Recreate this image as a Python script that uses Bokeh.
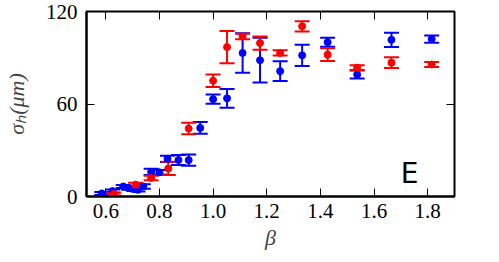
from bokeh.plotting import figure
from bokeh.models import (ColumnDataSource, Whisker, TeeHead, LinearAxis, FixedTicker, Label,
                          Range1d, PrintfTickFormatter, CustomJSTickFormatter)
from bokeh.embed import file_html
from bokeh.resources import INLINE

# Blue series
beta_blue = [0.585, 0.625, 0.665, 0.685, 0.705, 0.72, 0.74, 0.769, 0.800, 0.830, 0.871, 0.909,
             0.952, 1.000, 1.052, 1.110, 1.175, 1.250, 1.332, 1.427, 1.537, 1.665, 1.815]
sigma_blue = [2.0, 3.5, 6.5, 5.5, 4.8, 4.3, 6.5, 16.0, 15.7, 24.4, 23.7, 23.6,
              44.5, 63.1, 63.7, 93.1, 88.4, 81.3, 91.6, 100.1, 79.1, 101.6, 102.1]
err_blue = [1.0, 1.0, 1.0, 1.2, 1.2, 1.0, 1.5, 2.0, 1.5, 2.0, 3.2, 3.7,
            3.8, 3.0, 6.1, 12.8, 14.5, 6.4, 6.9, 2.9, 2.6, 4.6, 2.3]

# Red series
beta_red = [0.63, 0.711, 0.769, 0.833, 0.909, 1.000, 1.052, 1.110, 1.175, 1.250, 1.332, 1.427, 1.537, 1.665, 1.815]
sigma_red = [1.6, 7.7, 12.0, 18.2, 44.1, 75.1, 96.9, 103.8, 99.5, 93.1, 110.4, 92.0, 83.6, 86.8, 85.6]
err_red = [1.0, 1.2, 1.5, 4.3, 3.8, 4.0, 10.5, 1.8, 4.3, 1.7, 3.3, 4.1, 1.6, 3.5, 1.6]

x_ticks = [0.6, 0.8, 1.0, 1.2, 1.4, 1.6, 1.8]
y_ticks = [0, 60, 120]

FONT = "Liberation Serif"
TICK_LEN = 8

p = figure(width=490, height=258, output_backend="svg", toolbar_location=None,
           x_range=Range1d(0.528, 1.9), y_range=Range1d(0, 120),
           min_border_left=79, min_border_right=36, min_border_top=11, min_border_bottom=62)
p.background_fill_color = "white"
p.border_fill_color = "white"
p.grid.visible = False
p.outline_line_color = "black"
p.outline_line_width = 2
p.outline_line_alpha = 1.0

for ax in p.xaxis + p.yaxis:
    ax.major_tick_in = TICK_LEN
    ax.major_tick_out = 0
    ax.minor_tick_line_color = None
    ax.major_tick_line_width = 1
    ax.axis_line_width = 2
    ax.major_label_text_font = FONT
    ax.major_label_text_font_size = "21px"
    ax.major_label_text_color = "black"
    ax.axis_label_text_font = FONT
    ax.axis_label_text_font_style = "italic"
    ax.axis_label_text_font_size = "22px"

p.xaxis.ticker = FixedTicker(ticks=x_ticks)
p.xaxis.formatter = PrintfTickFormatter(format="%.1f")
p.yaxis.ticker = FixedTicker(ticks=y_ticks)
p.xaxis.major_label_standoff = 7
p.yaxis.major_label_standoff = 9
p.xaxis.axis_label = "β"
p.yaxis.axis_label = "σₕ(μm)"
p.xaxis.axis_label_standoff = 4
p.yaxis.axis_label_standoff = 14

blank = CustomJSTickFormatter(code="return ''")
top = LinearAxis(ticker=FixedTicker(ticks=x_ticks), formatter=blank,
                 major_label_text_font_size="1px", major_label_text_color=None,
                 major_tick_in=TICK_LEN, major_tick_out=0, minor_tick_line_color=None,
                 axis_line_color=None, major_label_standoff=0)
right = LinearAxis(ticker=FixedTicker(ticks=y_ticks), formatter=blank,
                   major_label_text_font_size="1px", major_label_text_color=None,
                   major_tick_in=TICK_LEN, major_tick_out=0, minor_tick_line_color=None,
                   axis_line_color=None, major_label_standoff=0)
p.add_layout(top, "above")
p.add_layout(right, "right")


def series(beta, sigma, err, color):
    src = ColumnDataSource(dict(x=beta, y=sigma,
                                lo=[s - e for s, e in zip(sigma, err)],
                                hi=[s + e for s, e in zip(sigma, err)]))
    w = Whisker(base="x", upper="hi", lower="lo", source=src, dimension="height",
                line_color=color, line_width=2,
                upper_head=TeeHead(size=15, line_color=color, line_width=2),
                lower_head=TeeHead(size=15, line_color=color, line_width=2))
    p.add_layout(w)
    p.scatter("x", "y", source=src, size=7, color=color)


series(beta_blue, sigma_blue, err_blue, "#0000ff")
series(beta_red, sigma_red, err_red, "#ff0000")

p.add_layout(Label(x=1.70, y=3.9, text="E", text_font="DejaVu Sans", text_font_size="28px",
                   text_color="black"))

open("out.html", "w").write(file_html(p, INLINE))
